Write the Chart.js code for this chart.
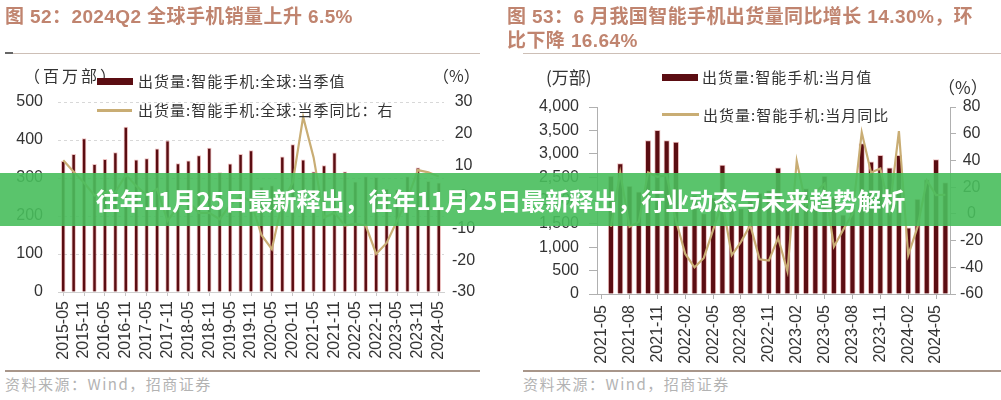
<!DOCTYPE html>
<html lang="zh-CN">
<head>
<meta charset="utf-8">
<title>智能手机出货量</title>
<script src="https://cdn.jsdelivr.net/npm/chart.js@4.4.1/dist/chart.umd.min.js"></script>
<style>
  html, body { margin: 0; padding: 0; background: #fff; }
  body { width: 1001px; height: 400px; position: relative; overflow: hidden;
         font-family: "Liberation Sans", "Noto Sans CJK SC", sans-serif; }
  canvas { position: absolute; top: 0; }
  .abs { position: absolute; white-space: nowrap; line-height: 1; }
  .title { font-size: 19px; font-weight: bold; color: #c0846f; letter-spacing: 0.4px; }
  .rule { position: absolute; height: 1px; background: #cdbfb6; }
  .rule.bottom { height: 2px; background: #a8968a; }
  .src { font-size: 15px; color: #b3b3b3; letter-spacing: 1.5px; font-family: "Noto Sans CJK SC", sans-serif; }
  .unit { font-size: 16px; color: #333; font-family: "Noto Sans CJK SC", sans-serif; }
  .leg { font-size: 15px; color: #333; letter-spacing: 1px; font-family: "Noto Sans CJK SC", sans-serif; }
  .swatch { position: absolute; background: #5b0d12; }
  .lineswatch { position: absolute; height: 3px; background: #c9ad74; }
  #banner { position: absolute; left: 0; top: 173px; width: 1001px; height: 53px;
            background: rgba(72, 190, 92, 0.9); color: #fff; font-weight: bold;
            font-size: 24px; text-align: center; line-height: 53px;
            font-family: "Noto Sans CJK SC", sans-serif; }
</style>
</head>
<body>
<canvas id="chartL" width="500" height="372" style="left:0"></canvas>
<canvas id="chartR" width="501" height="372" style="left:500px"></canvas>

<div class="abs title" style="left:5px; top:7px">图 52：2024Q2 全球手机销量上升 6.5%</div>
<div class="rule" style="left:5px; top:53px; width:475px"></div>
<div class="rule" style="left:5px; top:52px; width:8px; height:2px; background:#666"></div>

<div class="abs title" style="left:507px; top:7px">图 53：6 月我国智能手机出货量同比增长 14.30%，环</div>
<div class="abs title" style="left:507px; top:31px">比下降 16.64%</div>
<div class="rule" style="left:523px; top:53px; width:478px"></div>

<div class="abs unit" style="left:24px; top:67px; letter-spacing:3px">（百万部）</div>
<div class="abs unit" style="left:433px; top:67px">（%）</div>
<div class="swatch" style="left:97px; top:78px; width:36px; height:7px"></div>
<div class="abs leg" style="left:138px; top:73px">出货量:智能手机:全球:当季值</div>
<div class="lineswatch" style="left:97px; top:109px; width:35px"></div>
<div class="abs leg" style="left:138px; top:102px">出货量:智能手机:全球:当季同比：右</div>

<div class="abs unit" style="left:546px; top:68px; font-size:17px">(万部)</div>
<div class="abs unit" style="left:938px; top:78px; font-size:17px">（%）</div>
<div class="swatch" style="left:662px; top:74px; width:36px; height:7px"></div>
<div class="abs leg" style="left:702px; top:69px">出货量:智能手机:当月值</div>
<div class="lineswatch" style="left:662px; top:113px; width:37px"></div>
<div class="abs leg" style="left:703px; top:107px">出货量:智能手机:当月同比</div>

<div class="rule bottom" style="left:5px; top:370px; width:475px"></div>
<div class="rule bottom" style="left:523px; top:370px; width:478px"></div>
<div class="abs src" style="left:5px; top:376px">资料来源：Wind，招商证券</div>
<div class="abs src" style="left:523px; top:376px">资料来源：Wind，招商证券</div>

<div id="banner">往年11月25日最新释出，往年11月25日最新释出，行业动态与未来趋势解析</div>

<script>
// global quarterly shipments (million units) and yoy (%)
const quarterLabels = [
  '2015-05','2015-08','2015-11','2016-02','2016-05','2016-08','2016-11','2017-02',
  '2017-05','2017-08','2017-11','2018-02','2018-05','2018-08','2018-11','2019-02',
  '2019-05','2019-08','2019-11','2020-02','2020-05','2020-08','2020-11','2021-02',
  '2021-05','2021-08','2021-11','2022-02','2022-05','2022-08','2022-11','2023-02',
  '2023-05','2023-08','2023-11','2024-02','2024-05'
];
const globalShipments = [
  344, 362, 404, 336, 349, 367, 434, 348, 351, 377, 398, 338, 345, 359, 379, 314,
  337, 362, 372, 276, 280, 356, 388, 348, 316, 333, 366, 316, 290, 304, 302, 271,
  269, 304, 327, 291, 287
];
const globalYoY = [
  11.6, 8, 4.5, 0.5, 1.5, 1.5, 7, 3.5, 0.5, 2.5, -7.5, -3, -1.5, -5, -5, -7,
  -2.5, 0.5, -1.5, -12, -16.5, -1.5, 4.5, 25.3, 12.5, -6.5, -5, -9, -8.5, -9, -18, -14.5,
  -7.5, -0.5, 8.5, 7.8, 6.5
];

// China monthly shipments (10k units) and yoy (%)
const monthLabels = [
  '2021-05','2021-06','2021-07','2021-08','2021-09','2021-10','2021-11','2021-12',
  '2022-01','2022-02','2022-03','2022-04','2022-05','2022-06','2022-07','2022-08',
  '2022-09','2022-10','2022-11','2022-12','2023-01','2023-02','2023-03','2023-04',
  '2023-05','2023-06','2023-07','2023-08','2023-09','2023-10','2023-11','2023-12',
  '2024-01','2024-02','2024-03','2024-04','2024-05','2024-06'
];
const chinaShipments = [
  null, 2520, 2790, 2310, 2185, 3280, 3500, 3280, 3250, 1460, 2117, 1720, 2056,
  2755, 1925, 1825, 2000, 2157, 2215, 2698, 1832, 2052, 2254, 1995, 2520,
  2077, 1694, 1825, 3218, 2826, 2968, 2698, 2968, 1416, 2029, 2450, 2876, 2385
];
const chinaYoY = [
  null, -9.7, 31, -9.7, -6, 31, 27.7, 29, -5, -30, -40, -33, -12,
  9, -31, -21, -8.5, -34, -35, -18, -43, 39.6, 6.5, 16, 22.7,
  -24.6, -12, 0, 61, 31, 34, 3, 62, -31, -10, 25, 14, 14.3
];

const BAR = '#5b0d12';
const BAR_EDGE = 'rgba(214,120,120,0.45)';
const LINE = '#c9ad74';
const AXIS = '#b0b0b0';
const tickFont = { family: 'Liberation Sans, Arial, sans-serif', size: 16 };
const clear = 'rgba(0,0,0,0)';

Chart.defaults.color = '#333';

new Chart(document.getElementById('chartL'), {
  type: 'bar',
  data: {
    labels: quarterLabels,
    datasets: [
      {
        type: 'line',
        label: '出货量:智能手机:全球:当季同比：右',
        data: globalYoY,
        yAxisID: 'yr',
        borderColor: LINE,
        borderWidth: 2.2,
        pointRadius: 0,
        tension: 0,
        order: 0
      },
      {
        label: '出货量:智能手机:全球:当季值',
        data: globalShipments,
        yAxisID: 'y',
        backgroundColor: BAR,
        borderColor: BAR_EDGE,
        borderWidth: 1,
        barThickness: 3.8,
        order: 1
      }
    ]
  },
  options: {
    responsive: false,
    animation: false,
    layout: { padding: { top: 102 } },
    plugins: { legend: { display: false }, tooltip: { enabled: false } },
    scales: {
      x: {
        grid: {
          drawOnChartArea: false,
          offset: false,
          tickLength: 4,
          color: c => c.index % 2 === 0 ? '#c8c8c8' : clear
        },
        border: { color: '#d0d0d0' },
        ticks: {
          autoSkip: false, maxRotation: 90, minRotation: 90, padding: 5, font: tickFont,
          callback: (v, i) => i % 2 === 0 ? quarterLabels[i] : ''
        },
        afterFit: s => { s.height = 80; }
      },
      y: {
        position: 'left',
        min: 0, max: 500,
        ticks: { stepSize: 100, padding: 15, font: tickFont },
        grid: { drawTicks: false, color: c => c.tick.value === 0 ? clear : '#d8d8d8' },
        border: { display: false, dash: [3, 3] },
        afterFit: s => { s.width = 58; }
      },
      yr: {
        position: 'right',
        min: -30, max: 30,
        ticks: { stepSize: 10, padding: 8, crossAlign: 'center', font: tickFont },
        grid: { display: false, drawTicks: false },
        border: { display: false },
        afterFit: s => { s.width = 56; }
      }
    }
  }
});

new Chart(document.getElementById('chartR'), {
  type: 'bar',
  data: {
    labels: monthLabels,
    datasets: [
      {
        type: 'line',
        label: '出货量:智能手机:当月同比',
        data: chinaYoY,
        yAxisID: 'yr',
        borderColor: LINE,
        borderWidth: 2.2,
        pointRadius: 0,
        tension: 0,
        order: 0
      },
      {
        label: '出货量:智能手机:当月值',
        data: chinaShipments,
        yAxisID: 'y',
        backgroundColor: BAR,
        borderColor: BAR_EDGE,
        borderWidth: 1,
        barThickness: 5.5,
        order: 1
      }
    ]
  },
  options: {
    responsive: false,
    animation: false,
    layout: { padding: { top: 107 } },
    plugins: { legend: { display: false }, tooltip: { enabled: false } },
    scales: {
      x: {
        grid: {
          drawOnChartArea: false,
          offset: false,
          tickLength: 5,
          color: c => c.index % 3 === 0 ? AXIS : clear
        },
        border: { color: AXIS },
        ticks: {
          autoSkip: false, maxRotation: 90, minRotation: 90, padding: 6, font: tickFont,
          callback: (v, i) => i % 3 === 0 ? monthLabels[i] : ''
        },
        afterFit: s => { s.height = 78; }
      },
      y: {
        position: 'left',
        min: 0, max: 4000,
        ticks: { stepSize: 500, padding: 10, font: tickFont },
        grid: { drawOnChartArea: false, tickLength: 8, color: AXIS },
        border: { color: AXIS },
        afterFit: s => { s.width = 97; }
      },
      yr: {
        position: 'right',
        min: -60, max: 80,
        ticks: { stepSize: 20, padding: 4, crossAlign: 'center', font: tickFont },
        grid: { drawOnChartArea: false, tickLength: 6, color: AXIS },
        border: { color: AXIS },
        afterFit: s => { s.width = 51; }
      }
    }
  }
});
</script>
</body>
</html>
